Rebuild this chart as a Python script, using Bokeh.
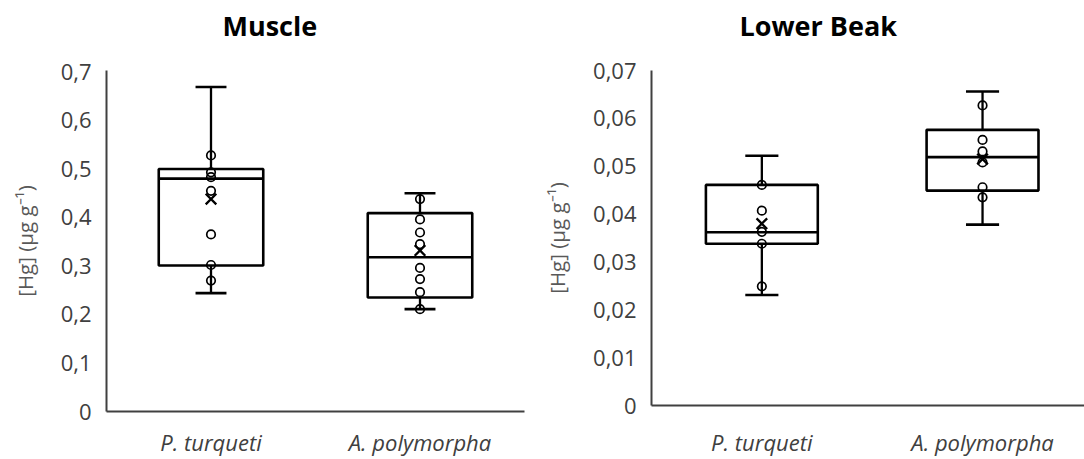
from bokeh.plotting import figure
from bokeh.layouts import row
from bokeh.models import FixedTicker, CustomJSTickFormatter, Range1d, Title
from bokeh.embed import file_html
from bokeh.resources import INLINE

# ---------------- data ----------------
categories = ["P. turqueti", "A. polymorpha"]

# Muscle
muscle_whisker_low = [0.244, 0.211]
muscle_q1 = [0.301, 0.235]
muscle_median = [0.480, 0.318]
muscle_q3 = [0.500, 0.409]
muscle_whisker_high = [0.669, 0.450]
muscle_mean = [0.438, 0.332]
muscle_points_pt = [0.528, 0.493, 0.483, 0.455, 0.365, 0.302, 0.270]
muscle_points_ap = [0.438, 0.396, 0.369, 0.345, 0.296, 0.273, 0.246, 0.211]
muscle_ticks = [0, 0.1, 0.2, 0.3, 0.4, 0.5, 0.6, 0.7]

# Lower beak
beak_whisker_low = [0.0231, 0.0378]
beak_q1 = [0.0338, 0.0449]
beak_median = [0.0362, 0.0519]
beak_q3 = [0.0461, 0.0576]
beak_whisker_high = [0.0522, 0.0656]
beak_mean = [0.0380, 0.0515]
beak_points_pt = [0.0461, 0.0407, 0.0363, 0.0338, 0.0249]
beak_points_ap = [0.0627, 0.0555, 0.0531, 0.0508, 0.0456, 0.0435]
beak_ticks = [0, 0.01, 0.02, 0.03, 0.04, 0.05, 0.06, 0.07]

y_label = "[Hg] (µg g⁻¹)"
FONT = "Open Sans"
AXIS_COLOR = "#404040"


def panel(title, title_offset, width, border_left, border_right, border_bottom,
          x_label_standoff, x_end, y_end, ticks, decimals, wlo, q1, med, q3, whi,
          mean, pts_list, box_w, cap_w):
    p = figure(width=width, height=459, x_range=Range1d(0, x_end),
               y_range=Range1d(0, y_end), output_backend="svg",
               toolbar_location=None, min_border_left=border_left,
               min_border_right=border_right, min_border_top=70,
               min_border_bottom=border_bottom)
    p.frame_align = False
    p.outline_line_color = None
    p.grid.visible = False
    p.background_fill_color = "white"
    p.border_fill_color = "white"

    # blank spacer between the chart title and the plot area
    p.add_layout(Title(text=" ", text_font_size="12px", standoff=11,
                       text_color="white"), "above")
    # chart title
    p.add_layout(Title(text=title, align="left", offset=title_offset,
                       vertical_align="bottom", standoff=0, text_font=FONT,
                       text_font_size="27px", text_font_style="bold",
                       text_color="black"), "above")

    xs = [i + 0.5 for i in range(len(categories))]

    # boxes
    p.quad(left=[x - box_w / 2 for x in xs], right=[x + box_w / 2 for x in xs],
           bottom=q1, top=q3, fill_color=None, line_color="black", line_width=2.6)
    # medians
    p.segment(x0=[x - box_w / 2 for x in xs], x1=[x + box_w / 2 for x in xs],
              y0=med, y1=med, line_color="black", line_width=2.6)
    # whiskers
    p.segment(x0=xs, x1=xs, y0=q3, y1=whi, line_color="black", line_width=2.3)
    p.segment(x0=xs, x1=xs, y0=wlo, y1=q1, line_color="black", line_width=2.3)
    # caps
    for vals in (whi, wlo):
        p.segment(x0=[x - cap_w / 2 for x in xs], x1=[x + cap_w / 2 for x in xs],
                  y0=vals, y1=vals, line_color="black", line_width=2.6)
    # inner points
    for x, pts in zip(xs, pts_list):
        p.scatter(x=[x] * len(pts), y=pts, marker="circle", size=8.5,
                  fill_color=None, line_color="black", line_width=1.7)
    # mean markers
    p.scatter(x=xs, y=mean, marker="x", size=15, line_color="black", line_width=2.3)

    # axes
    p.xaxis.ticker = FixedTicker(ticks=xs)
    p.xaxis.major_label_overrides = {x: c for x, c in zip(xs, categories)}
    p.yaxis.ticker = FixedTicker(ticks=ticks)
    p.yaxis.formatter = CustomJSTickFormatter(
        code=f"return tick == 0 ? '0' : tick.toFixed({decimals}).replace('.', ',')")
    for ax in (p.xaxis[0], p.yaxis[0]):
        ax.axis_line_color = AXIS_COLOR
        ax.axis_line_width = 2
        ax.major_tick_line_color = None
        ax.minor_tick_line_color = None
        ax.major_tick_out = 0
        ax.major_tick_in = 0
        ax.minor_tick_out = 0
        ax.major_label_text_font = FONT
        ax.major_label_text_color = AXIS_COLOR
    p.yaxis.major_label_text_font_size = "22px"
    p.yaxis.major_label_standoff = 15
    p.xaxis.major_label_text_font_size = "22px"
    p.xaxis.major_label_text_font_style = "italic"
    p.xaxis.major_label_standoff = x_label_standoff
    p.yaxis.axis_label = y_label
    p.yaxis.axis_label_text_font = FONT
    p.yaxis.axis_label_text_font_size = "20.5px"
    p.yaxis.axis_label_text_font_style = "normal"
    p.yaxis.axis_label_text_color = "#595959"
    p.yaxis.axis_label_standoff = 19
    return p


p1 = panel("Muscle", 116, 540, 106, 16, 48, 15, 2.0, 0.703, muscle_ticks, 1,
           muscle_whisker_low, muscle_q1, muscle_median, muscle_q3,
           muscle_whisker_high, muscle_mean, [muscle_points_pt, muscle_points_ap],
           0.50, 0.148)
p2 = panel("Lower Beak", 88, 544, 111, 0, 54, 21, 1.962, 0.0700, beak_ticks, 2,
           beak_whisker_low, beak_q1, beak_median, beak_q3,
           beak_whisker_high, beak_mean, [beak_points_pt, beak_points_ap],
           0.507, 0.15)

layout = row(p1, p2)
open("out.html", "w").write(file_html(layout, INLINE))
